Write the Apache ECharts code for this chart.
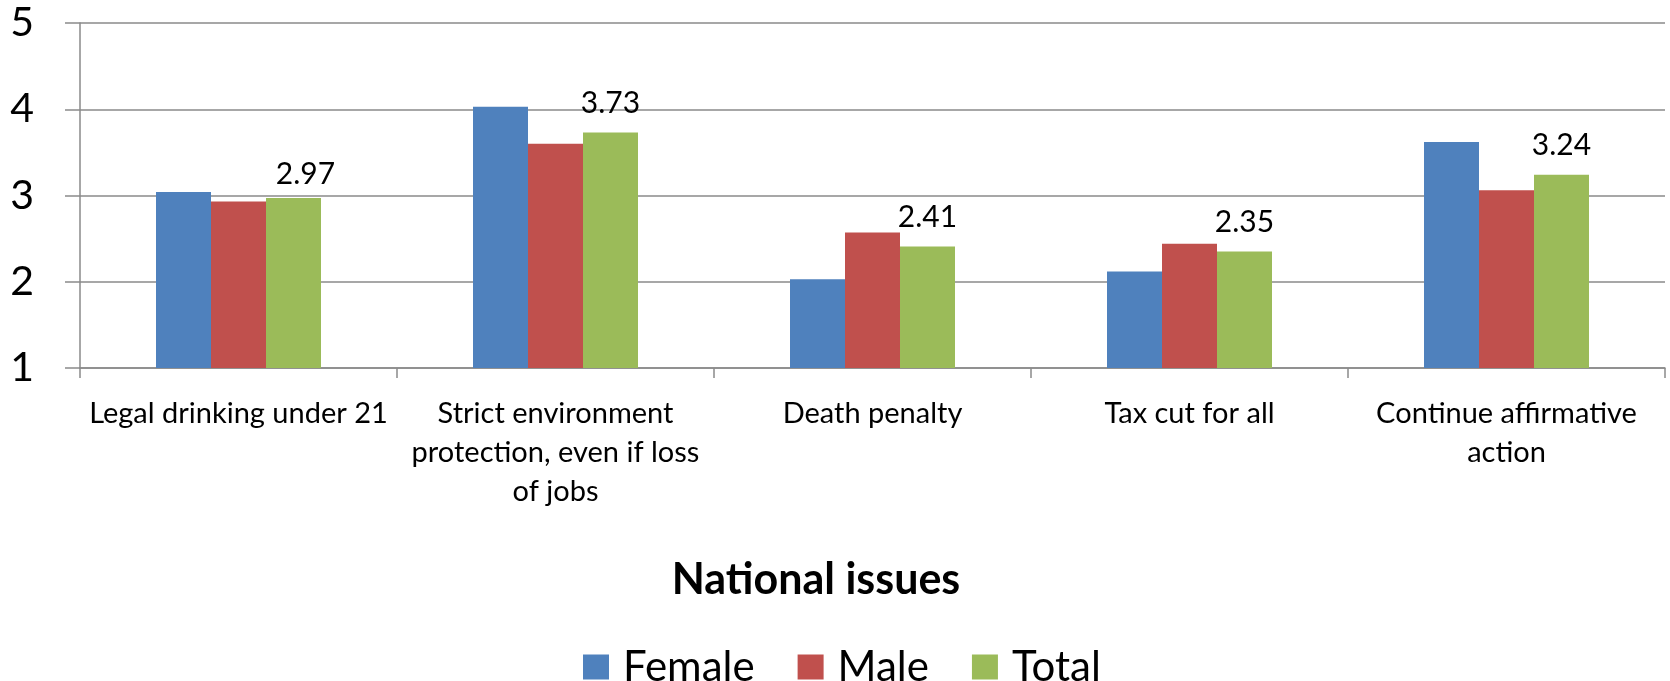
<!DOCTYPE html>
<html>
<head>
<meta charset="utf-8">
<script src="https://cdn.jsdelivr.net/npm/echarts@6/dist/echarts.min.js"></script>
<style>
html,body{margin:0;padding:0;background:#fff;}
#chart{width:1670px;height:681px;}
</style>
</head>
<body>
<div id="chart"></div>
<script>
const categories = [
  'Legal drinking under 21',
  'Strict environment\nprotection, even if loss\nof jobs',
  'Death penalty',
  'Tax cut for all',
  'Continue affirmative\naction'
];
const seriesNames = ['Female', 'Male', 'Total'];
const female = [3.04, 4.03, 2.03, 2.12, 3.62];
const male = [2.93, 3.60, 2.57, 2.44, 3.06];
const total = [2.97, 3.73, 2.41, 2.35, 3.24];
const yTicks = [1, 2, 3, 4, 5];
const axisTitle = 'National issues';

const colors = ['#4F81BD', '#C0504D', '#9BBB59'];
const FONT = 'Lato';
const gridColor = '#8a8a8a';

const chart = echarts.init(document.getElementById('chart'), null, {renderer: 'canvas'});
chart.setOption({
  animation: false,
  backgroundColor: '#ffffff',
  color: colors,
  textStyle: {fontFamily: FONT, color: '#000'},
  title: {
    text: axisTitle,
    left: 811,
    top: 554,
    textAlign: 'center',
    textStyle: {fontFamily: FONT, fontWeight: 'bold', fontSize: 43, color: '#000'}
  },
  legend: {
    data: seriesNames,
    left: 578,
    top: 641,
    itemWidth: 26,
    itemHeight: 25,
    itemGap: 43,
    icon: 'rect',
    textStyle: {fontFamily: FONT, fontSize: 42, color: '#000', padding: [0, 0, 0, 9]}
  },
  grid: {left: 80, top: 23, width: 1585, height: 345, containLabel: false},
  xAxis: {
    type: 'category',
    data: categories,
    axisLine: {show: true, lineStyle: {color: gridColor, width: 1.5}},
    axisTick: {show: true, length: 10, lineStyle: {color: gridColor, width: 1.5}},
    axisLabel: {
      fontFamily: FONT, fontSize: 29, color: '#000', lineHeight: 39,
      margin: 26, interval: 0, align: 'center'
    },
    splitLine: {show: false}
  },
  yAxis: {
    type: 'value',
    min: yTicks[0],
    max: yTicks[yTicks.length - 1],
    interval: 1,
    axisLine: {show: true, lineStyle: {color: gridColor, width: 1.5}},
    axisTick: {show: true, length: 15, lineStyle: {color: gridColor, width: 1.5}},
    axisLabel: {fontFamily: FONT, fontSize: 41, color: '#000', margin: 46},
    splitLine: {show: true, lineStyle: {color: gridColor, width: 1.5}}
  },
  series: [
    {name: seriesNames[0], type: 'bar', data: female, barWidth: 55, barGap: '0%'},
    {name: seriesNames[1], type: 'bar', data: male, barWidth: 55, barGap: '0%'},
    {
      name: seriesNames[2], type: 'bar', barWidth: 55, barGap: '0%',
      data: total.map((v, i) => i === 0 ? {value: v, label: {offset: [12, 5]}} : v),
      label: {
        show: true, position: 'top', distance: 14,
        fontFamily: FONT, fontSize: 30, color: '#000',
        formatter: p => p.value.toFixed(2)
      }
    }
  ]
});
</script>
</body>
</html>
